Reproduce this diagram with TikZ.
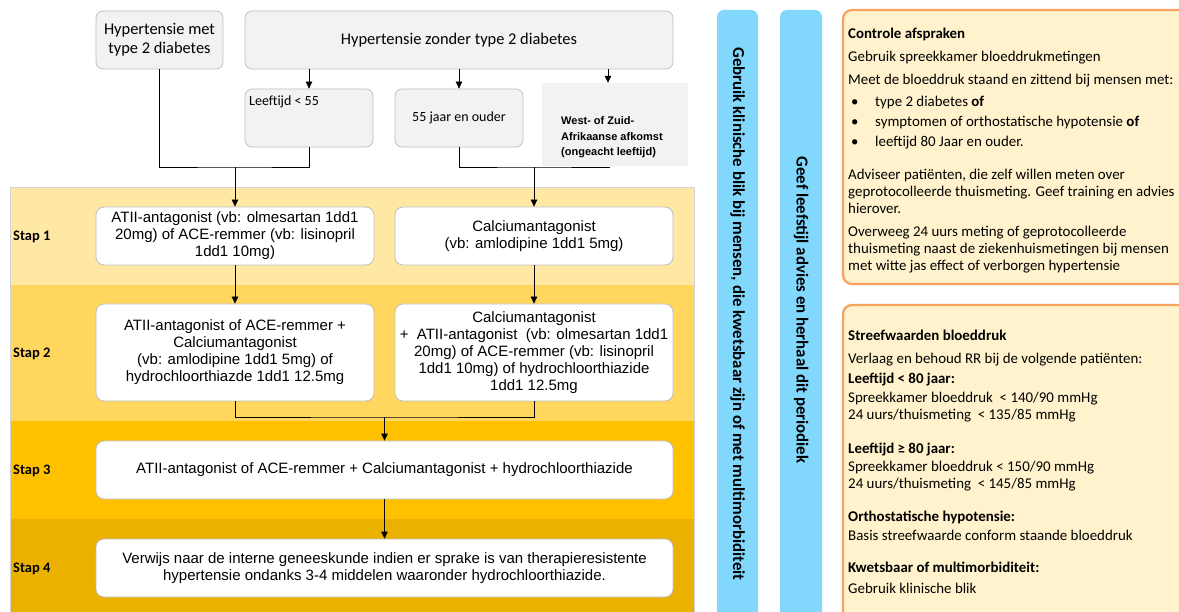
\documentclass[tikz,border=0pt]{standalone}
\usepackage{fontspec}
\setmainfont{Liberation Sans}
\newfontfamily\calibri{Carlito}
\usetikzlibrary{arrows.meta,calc}

\definecolor{boxgray}{HTML}{F2F2F2}
\definecolor{edgegray}{HTML}{BFBFBF}
\definecolor{bandA}{HTML}{FFE8A3}
\definecolor{bandB}{HTML}{FFD75E}
\definecolor{bandC}{HTML}{FFC000}
\definecolor{bandD}{HTML}{EBB100}
\definecolor{barblue}{HTML}{82D7FD}
\definecolor{notefill}{HTML}{FFF2CC}
\definecolor{noteedge}{HTML}{F5A25E}

\tikzset{
  topbox/.style={draw=edgegray, fill=boxgray, rounded corners=7pt, line width=0.8pt,
    align=center, font=\calibri\fontsize{16.4}{19}\selectfont, inner sep=2pt},
  flowbox/.style={draw=edgegray, fill=white, rounded corners=8pt, line width=0.8pt,
    align=center, font=\fontsize{15}{17}\selectfont, inner sep=2pt},
  steplabel/.style={anchor=west, font=\calibri\bfseries\fontsize{14.5}{17}\selectfont, inner sep=0pt},
  link/.style={draw=black, line width=0.8pt},
  arr/.style={link, -{Triangle[length=7pt,width=6.5pt]}},
  bartext/.style={rotate=-90, font=\calibri\bfseries\fontsize{16.8}{19}\selectfont, inner sep=0pt},
  notebox/.style={draw=noteedge, fill=notefill, rounded corners=9pt, line width=2.2pt},
  notetext/.style={anchor=north west, align=left, inner sep=0pt,
    font=\calibri\fontsize{14.9}{17}\selectfont},
}

\newcommand{\bul}{\makebox[27pt][l]{\hspace{3pt}\textbullet}}

\begin{document}
\begin{tikzpicture}[x=1pt,y=-1pt]
\useasboundingbox (0,0) rectangle (1179,612);

% step bands
\fill[bandA] (10,187) rectangle (694,285);
\fill[bandB] (10,285) rectangle (694,421);
\fill[bandC] (10,421) rectangle (694,519);
\fill[bandD] (10,519) rectangle (694,612);
\draw[edgegray!70, line width=0.6pt] (10,612) -- (10,187) -- (694,187) -- (694,612);

\node[steplabel] (lab1) at (13,237) {Stap 1};
\node[steplabel] (lab2) at (13,354) {Stap 2};
\node[steplabel] (lab3) at (13,471) {Stap 3};
\node[steplabel] (lab4) at (13,569) {Stap 4};

% entry boxes
\node[topbox, minimum width=127pt, minimum height=58pt] (met) at (159.5,40)
  {Hypertensie met\\type 2 diabetes};
\node[topbox, minimum width=428pt, minimum height=58pt] (zonder) at (459,40)
  {Hypertensie zonder type 2 diabetes};
\node[topbox, minimum width=128pt, minimum height=58pt] (leeft) at (309,118) {};
\node[anchor=base west, inner sep=0pt, font=\calibri\fontsize{14}{17}\selectfont]
  (leeftxt) at (249,106) {Leeftijd < 55};
\node[topbox, minimum width=128pt, minimum height=58pt, font=\calibri\fontsize{14}{17}\selectfont]
  (ouder) at (459,118) {55 jaar en ouder};

% junctions
\coordinate (jL) at (235,167);
\coordinate (jR) at (534,167);
\coordinate (j2) at (384.5,417);

% connectors
\draw[arr] (zonder.south -| leeft.north) -- (leeft.north);
\draw[arr] (zonder.south -| ouder.north) -- (ouder.north);
\draw[link] (met.south) |- (jL) -| (leeft.south);
\draw[link] (ouder.south) |- (jR) -- ++(76,0);

\node[fill=boxgray, minimum width=146pt, minimum height=83pt, inner sep=0pt] (west) at (615,124.5) {};
\draw[arr] ([xshift=-7pt]zonder.south -| west.north) -- ([xshift=-7pt]west.north);
\node[anchor=west, align=left, inner sep=0pt, font=\bfseries\fontsize{11}{15.5}\selectfont]
  (westtxt) at (561,137.5) {West- of Zuid-\\Afrikaanse afkomst\\(ongeacht leeftijd)};

% treatment steps
\node[flowbox, minimum width=278pt, minimum height=58pt] (s1L) at (235,236)
  {ATII-antagonist (vb: olmesartan 1dd1\\20mg) of ACE-remmer (vb: lisinopril\\1dd1 10mg)};
\node[flowbox, minimum width=278pt, minimum height=58pt] (s1R) at (534,236)
  {Calciumantagonist\\(vb: amlodipine 1dd1 5mg)};
\node[flowbox, minimum width=278pt, minimum height=97pt] (s2L) at (235,352.5)
  {ATII-antagonist of ACE-remmer +\\Calciumantagonist\\(vb: amlodipine 1dd1 5mg) of\\hydrochloorthiazde 1dd1 12.5mg};
\node[flowbox, minimum width=278pt, minimum height=97pt] (s2R) at (534,352.5)
  {Calciumantagonist\\+\ \ ATII-antagonist \ (vb: olmesartan 1dd1\\20mg) of ACE-remmer (vb: lisinopril\\1dd1 10mg) of hydrochloorthiazide\\1dd1 12.5mg};
\node[flowbox, minimum width=577pt, minimum height=58pt] (s3) at (384.5,470)
  {ATII-antagonist of ACE-remmer + Calciumantagonist + hydrochloorthiazide};
\node[flowbox, minimum width=577pt, minimum height=58pt] (s4) at (384.5,568)
  {Verwijs naar de interne geneeskunde indien er sprake is van therapieresistente\\hypertensie ondanks 3-4 middelen waaronder hydrochloorthiazide.};

\draw[arr] (jL) -- (s1L.north);
\draw[arr] (jR) -- (s1R.north);
\draw[arr] (s1L) -- (s2L);
\draw[arr] (s1R) -- (s2R);
\draw[link] (s2L.south) |- (j2) -| (s2R.south);
\draw[arr] (j2) -- (s3.north);
\draw[arr] (s3) -- (s4);

% side bars and notes, cut at the page edge
\begin{scope}
\clip (0,0) rectangle (1179,612);
\fill[barblue, rounded corners=7pt] (717,10) rectangle (758,640);
\fill[barblue, rounded corners=7pt] (780,10) rectangle (822,640);
\draw[notebox] (843,10) rectangle (1200,284);
\draw[notebox] (843,305) rectangle (1200,640);
\end{scope}

\node[bartext] (bar1) at (737.5,314)
  {Gebruik klinische blik bij mensen, die kwetsbaar zijn of met multimorbiditeit};
\node[bartext] (bar2) at (801,310)
  {Geef leefstijl advies en herhaal dit periodiek};

\node[notetext] (note1) at (848,28)
  {\textbf{Controle afspraken}\\[6pt]
   Gebruik spreekkamer bloeddrukmetingen\\[6pt]
   Meet de bloeddruk staand en zittend bij mensen met:\\[5pt]
   \bul type 2 diabetes \textbf{of}\\[3pt]
   \bul symptomen of orthostatische hypotensie \textbf{of}\\[3pt]
   \bul leeftijd 80 Jaar en ouder.\\[16pt]
   Adviseer patiënten, die zelf willen meten over\\
   geprotocolleerde thuismeting. Geef training en advies\\
   hierover.\\[6pt]
   Overweeg 24 uurs meting of geprotocolleerde\\
   thuismeting naast de ziekenhuismetingen bij mensen\\
   met witte jas effect of verborgen hypertensie};

\node[notetext] (note2) at (848,330)
  {\textbf{Streefwaarden bloeddruk}\\[6pt]
   Verlaag en behoud RR bij de volgende patiënten:\\[3pt]
   \textbf{Leeftijd < 80 jaar:}\\[2pt]
   Spreekkamer bloeddruk \ < 140/90 mmHg\\
   24 uurs/thuismeting \ < 135/85 mmHg\\[17pt]
   \textbf{Leeftijd ≥ 80 jaar:}\\[1pt]
   Spreekkamer bloeddruk < 150/90 mmHg\\
   24 uurs/thuismeting \ < 145/85 mmHg\\[16pt]
   \textbf{Orthostatische hypotensie:}\\[2pt]
   Basis streefwaarde conform staande bloeddruk\\[15pt]
   \textbf{Kwetsbaar of multimorbiditeit:}\\[4pt]
   Gebruik klinische blik};
\end{tikzpicture}
\end{document}
